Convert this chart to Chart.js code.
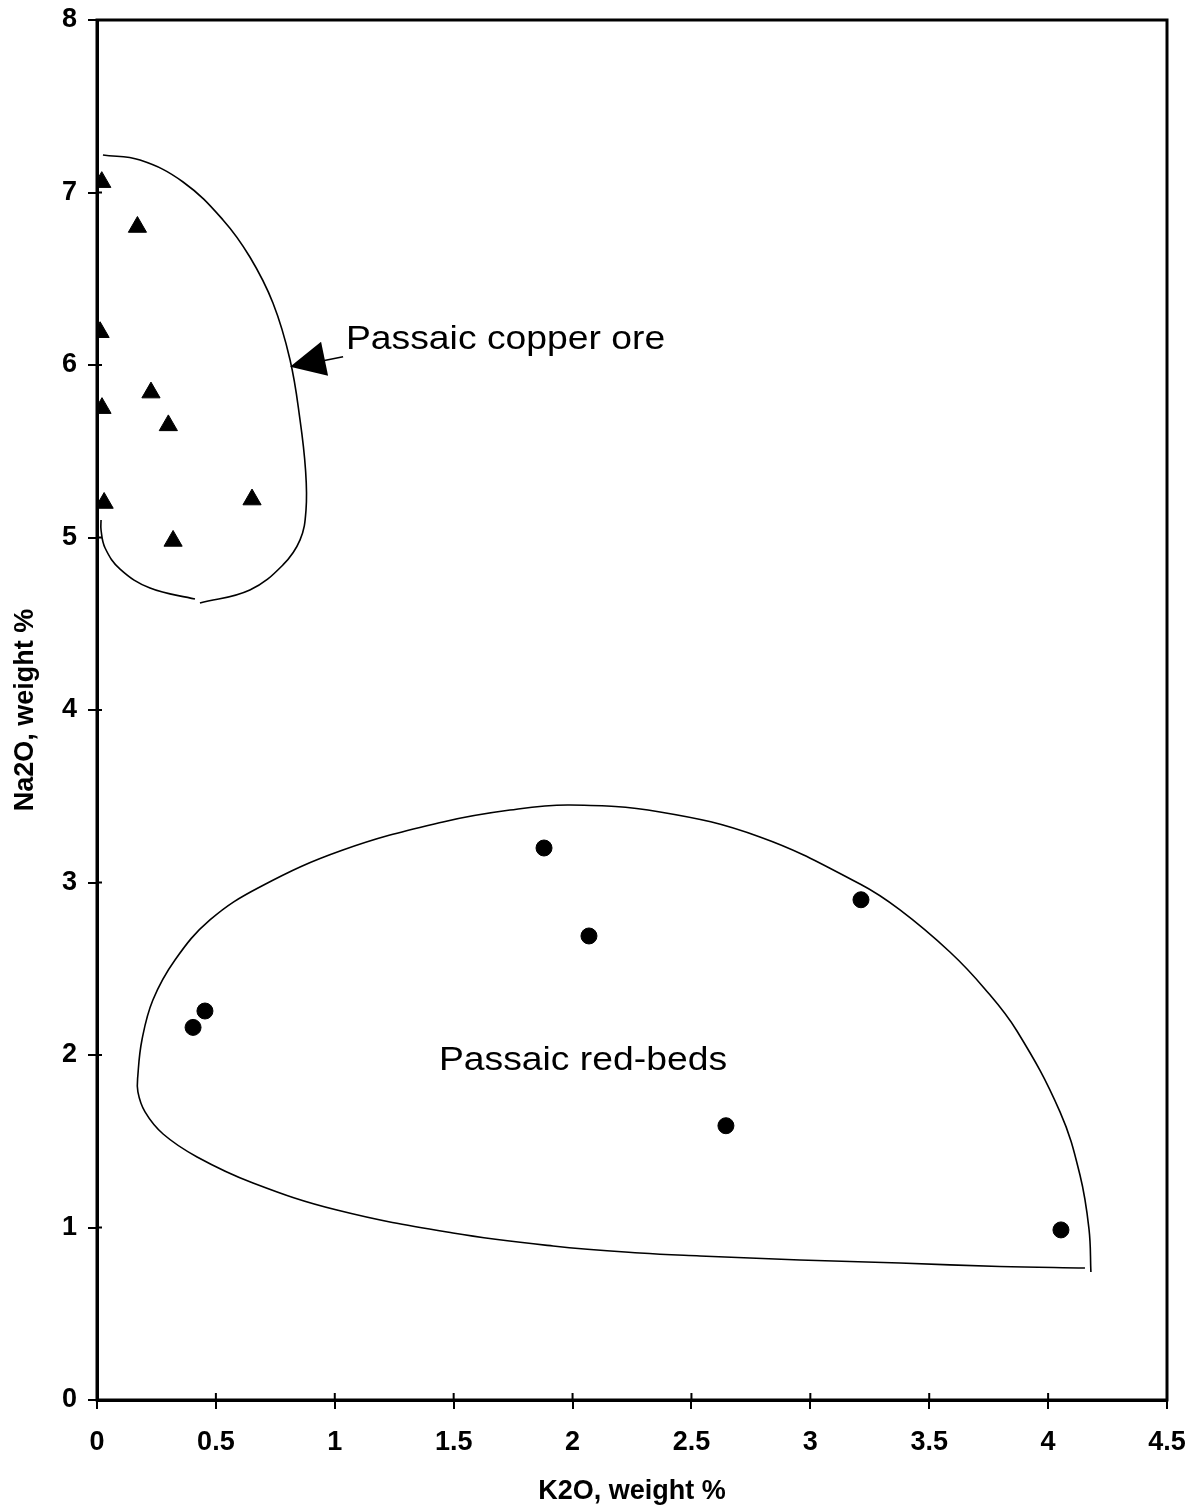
<!doctype html>
<html>
<head>
    <script src="https://cdn.jsdelivr.net/npm/chart.js@4.4.1/dist/chart.umd.min.js"></script>
    <style>
        html, body { margin: 0; padding: 0; background: #fff; }
        #wrap { width: 1195px; height: 1508px; }
    </style>
</head>
<body>
<div id="wrap"><canvas id="chart"></canvas></div>
<script>
// sample points, K2O (x) and Na2O (y), weight %
const copperK2O  = [0.02, 0.17, 0.013, 0.227, 0.021, 0.30, 0.03, 0.652, 0.32];
const copperNa2O = [7.06, 6.80, 6.19, 5.84, 5.75, 5.65, 5.20, 5.22, 4.98];

const redK2O  = [1.88, 2.069, 3.213, 0.404, 0.454, 2.645, 4.054];
const redNa2O = [3.20, 2.69, 2.90, 2.16, 2.255, 1.59, 0.986];

// hand-drawn envelopes round each group (two strokes for the copper one)
const copperHullX = [0.025, 0.181, 0.362, 0.530, 0.643, 0.740, 0.812, 0.854, 0.877, 0.879, 0.854, 0.782, 0.643, 0.433];
const copperHullY = [7.217, 7.188, 7.061, 6.841, 6.626, 6.359, 6.029, 5.681, 5.391, 5.159, 4.986, 4.841, 4.696, 4.620];
const copperTailX = [0.412, 0.223, 0.097, 0.034, 0.017, 0.017];
const copperTailY = [4.643, 4.707, 4.817, 4.939, 5.043, 5.101];

const redHullX = [4.155, 3.797, 3.377, 2.956, 2.536, 2.283, 1.918, 1.497, 1.009, 0.656, 0.421, 0.278, 0.202, 0.172,
                  0.172, 0.189, 0.235, 0.328, 0.475, 0.685, 1.034, 1.455, 1.737, 1.989,
                  2.368, 2.788, 3.209, 3.377, 3.587, 3.734, 3.869, 4.050, 4.134, 4.172, 4.180];
const redHullY = [0.765, 0.774, 0.794, 0.812, 0.835, 0.852, 0.893, 0.968, 1.101, 1.258, 1.409, 1.542, 1.670, 1.786,
                  1.884, 2.087, 2.319, 2.551, 2.783, 2.974, 3.188, 3.351, 3.420, 3.449,
                  3.409, 3.264, 2.991, 2.841, 2.597, 2.383, 2.139, 1.670, 1.304, 0.991, 0.742];

const xTicks = [0, 0.5, 1, 1.5, 2, 2.5, 3, 3.5, 4, 4.5];
const yTicks = [0, 1, 2, 3, 4, 5, 6, 7, 8];

const labels = [
    { text: 'Passaic copper ore', x: 1.047, y: 6.09 },
    { text: 'Passaic red-beds', x: 1.438, y: 1.913 }
];
const arrowTip = { x: 0.812, y: 5.99 };

const FONT = "Arial, 'Liberation Sans', sans-serif";

function pts(xs, ys) {
    return xs.map((x, i) => ({ x: x, y: ys[i] }));
}

function hull(data) {
    return {
        data: data,
        showLine: true,
        borderColor: '#000',
        borderWidth: 1.6,
        pointRadius: 0,
        tension: 0.4,
        fill: false
    };
}

// keep the plot box where the original has it, not pushed in by label overhang
function noOverhang(s) {
    s.paddingTop = 0;
    s.paddingBottom = 0;
    s.paddingLeft = 0;
    s.paddingRight = 0;
}

const frame = {
    id: 'frame',
    afterDraw(chart) {
        const ctx = chart.ctx;
        const a = chart.chartArea;
        const xs = chart.scales.x, ys = chart.scales.y;
        ctx.save();
        ctx.strokeStyle = '#000';
        ctx.lineWidth = 3;
        ctx.strokeRect(a.left, a.top, a.right - a.left, a.bottom - a.top);
        // inner halves of the crossing ticks
        ctx.lineWidth = 2;
        ctx.beginPath();
        xTicks.forEach(v => {
            const px = xs.getPixelForValue(v);
            ctx.moveTo(px, a.bottom);
            ctx.lineTo(px, a.bottom - 7);
        });
        yTicks.forEach(v => {
            const py = ys.getPixelForValue(v);
            ctx.moveTo(a.left, py);
            ctx.lineTo(a.left + 5, py);
        });
        ctx.stroke();

        // text labels
        ctx.fillStyle = '#000';
        ctx.font = '33px ' + FONT;
        ctx.textBaseline = 'alphabetic';
        labels.forEach(l => {
            const px = xs.getPixelForValue(l.x), py = ys.getPixelForValue(l.y);
            ctx.save();
            ctx.translate(px, py);
            ctx.scale(1.13, 1);
            ctx.fillText(l.text, 0, 0);
            ctx.restore();
        });

        // arrow pointing at the copper ore envelope
        const tx = xs.getPixelForValue(arrowTip.x), ty = ys.getPixelForValue(arrowTip.y);
        ctx.beginPath();
        ctx.moveTo(tx, ty);
        ctx.lineTo(tx + 31, ty - 25);
        ctx.lineTo(tx + 38, ty + 9);
        ctx.closePath();
        ctx.fill();
        ctx.lineWidth = 1.5;
        ctx.beginPath();
        ctx.moveTo(tx + 33, ty - 6);
        ctx.lineTo(tx + 53, ty - 10);
        ctx.stroke();
        ctx.restore();
    }
};

const ctx = document.getElementById('chart').getContext('2d');
const chart = new Chart(ctx, {
    type: 'scatter',
    data: {
        datasets: [
            hull(pts(copperHullX, copperHullY)),
            hull(pts(copperTailX, copperTailY)),
            hull(pts(redHullX, redHullY)),
            {
                label: 'Passaic copper ore',
                data: pts(copperK2O, copperNa2O),
                pointStyle: 'triangle',
                pointRadius: 10.5,
                backgroundColor: '#000',
                borderColor: '#000',
                borderWidth: 1
            },
            {
                label: 'Passaic red-beds',
                data: pts(redK2O, redNa2O),
                pointStyle: 'circle',
                pointRadius: 8,
                backgroundColor: '#000',
                borderColor: '#000',
                borderWidth: 1
            }
        ]
    },
    options: {
        responsive: true,
        maintainAspectRatio: false,
        animation: false,
        layout: { padding: { top: 20, right: 28, left: 0, bottom: 0 } },
        plugins: {
            legend: { display: false },
            tooltip: { enabled: false }
        },
        scales: {
            x: {
                type: 'linear',
                min: 0,
                max: 4.5,
                afterFit(s) { s.height = 108; noOverhang(s); },
                afterBuildTicks(s) { s.ticks = xTicks.map(v => ({ value: v })); },
                grid: { drawOnChartArea: false, drawTicks: true, tickLength: 9, color: '#000', lineWidth: 2 },
                border: { display: true, color: '#000', width: 3 },
                ticks: {
                    color: '#000',
                    padding: 17,
                    font: { family: FONT, size: 27, weight: 'bold' },
                    callback: v => String(v)
                },
                title: {
                    display: true,
                    text: 'K2O, weight %',
                    color: '#000',
                    padding: { top: 0, bottom: 0 },
                    font: { family: FONT, size: 27, weight: 'bold' }
                }
            },
            y: {
                type: 'linear',
                min: 0,
                max: 8,
                afterFit(s) { s.width = 97; noOverhang(s); },
                afterBuildTicks(s) { s.ticks = yTicks.map(v => ({ value: v })); },
                grid: { drawOnChartArea: false, drawTicks: true, tickLength: 9, color: '#000', lineWidth: 2 },
                border: { display: true, color: '#000', width: 3 },
                ticks: {
                    color: '#000',
                    padding: 11,
                    font: { family: FONT, size: 27, weight: 'bold' },
                    callback: v => String(v)
                },
                title: {
                    display: true,
                    text: 'Na2O, weight %',
                    color: '#000',
                    padding: { top: 9, bottom: 0 },
                    font: { family: FONT, size: 27, weight: 'bold' }
                }
            }
        }
    },
    plugins: [frame]
});
</script>
</body>
</html>
